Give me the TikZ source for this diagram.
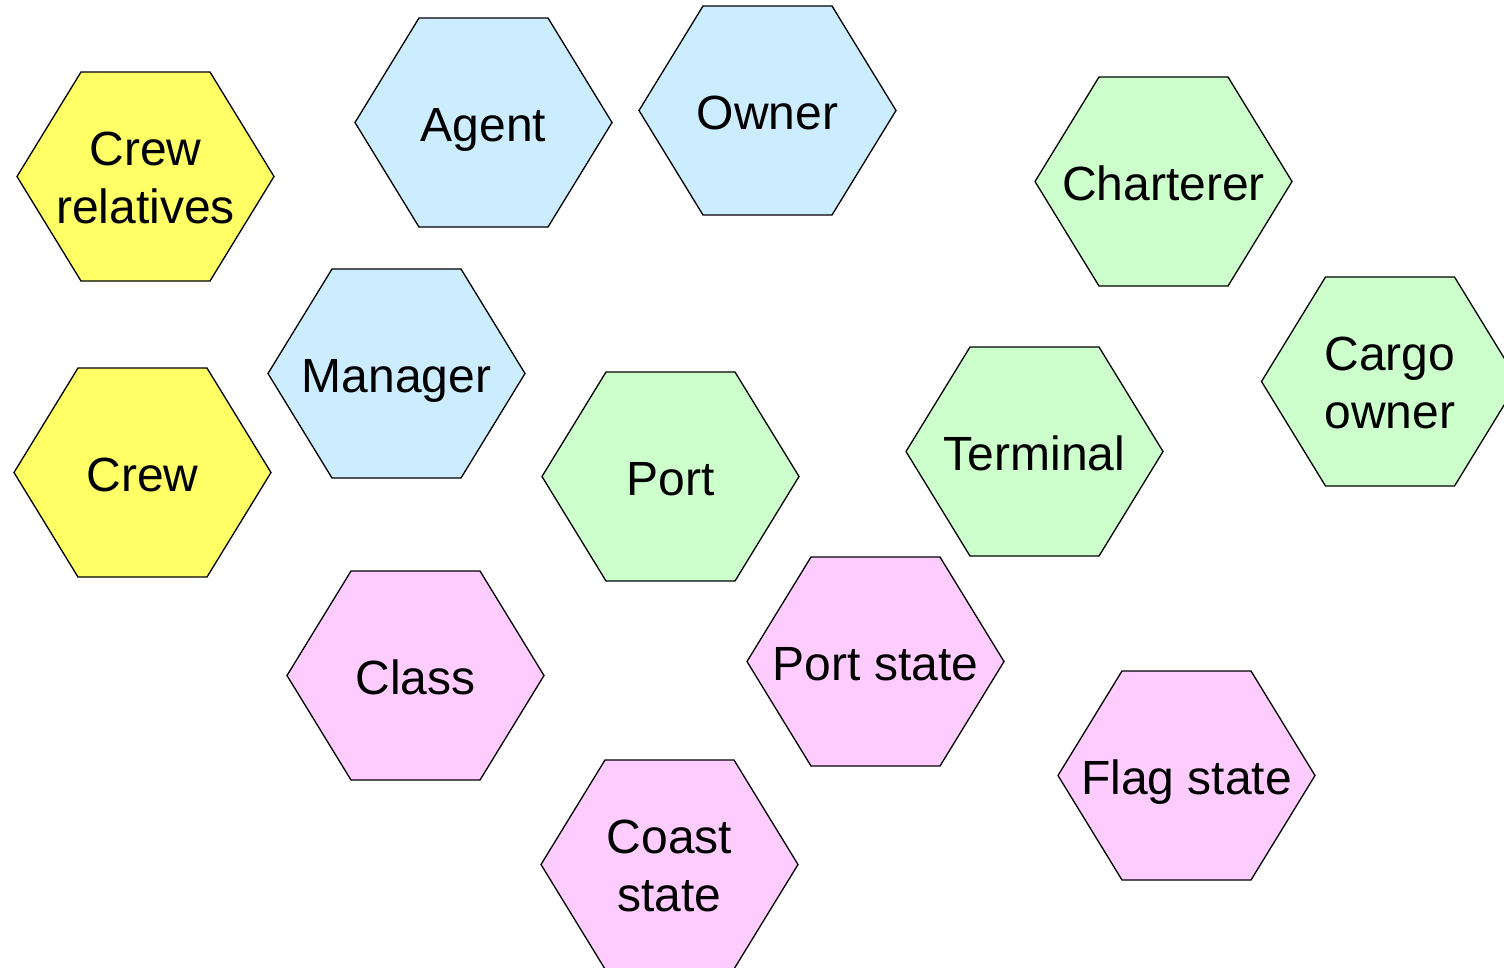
\documentclass[tikz,border=0pt]{standalone}
\usepackage{fontspec}
\setmainfont{Liberation Sans}
\definecolor{hyel}{HTML}{FFFF66}
\definecolor{hblue}{HTML}{CCECFF}
\definecolor{hgreen}{HTML}{CCFFCC}
\definecolor{hpink}{HTML}{FFCCFF}
\tikzset{
  hexline/.style={draw=black, line width=1.3pt, line join=miter},
  hexlabel/.style={align=center, font=\fontsize{48}{58}\selectfont, inner sep=0pt}
}
% single-line label: baseline 19 below the centre
\newcommand{\hexshape}[3]{%
  \path[hexline, fill=#3] (#1-128.5,#2) -- (#1-64.5,#2-104.5) -- (#1+64.5,#2-104.5)
     -- (#1+128.5,#2) -- (#1+64.5,#2+104.5) -- (#1-64.5,#2+104.5) -- cycle;
}
\newcommand{\hexnode}[5]{%
  \hexshape{#2}{#3}{#4}
  \node[hexlabel, anchor=base] (#1) at (#2,#3+19) {#5};
}
\newcommand{\hexnodetwo}[5]{%
  \hexshape{#2}{#3}{#4}
  \node[hexlabel] (#1) at (#2,#3+1.5) {#5};
}
\begin{document}
\begin{tikzpicture}[x=1pt,y=-1pt]
\useasboundingbox (0,0) rectangle (1504,967);
\clip (0,0) rectangle (1504,967);
\fill[white] (0,0) rectangle (1504,967);
\hexnodetwo{crewrel}{145.5}{176.5}{hyel}{Crew\\relatives}
\hexnode{crew}{142.5}{472.5}{hyel}{Crew}
\hexnode{agent}{483.5}{122.5}{hblue}{Agent}
\hexnode{owner}{767.5}{110.5}{hblue}{Owner}
\hexnode{manager}{396.5}{373.5}{hblue}{Manager}
\hexnode{charterer}{1163.5}{181.5}{hgreen}{Charterer}
\hexnodetwo{cargo}{1390}{381.5}{hgreen}{Cargo\\owner}
\hexnode{terminal}{1034.5}{451.5}{hgreen}{Terminal}
\hexnode{port}{670.5}{476.5}{hgreen}{Port}
\hexnode{class}{415.5}{675.5}{hpink}{Class}
\hexnode{portstate}{875.5}{661.5}{hpink}{Port state}
\hexnode{flagstate}{1186.5}{775.5}{hpink}{Flag state}
\hexnodetwo{coast}{669.5}{864.5}{hpink}{Coast\\state}
\end{tikzpicture}
\end{document}
